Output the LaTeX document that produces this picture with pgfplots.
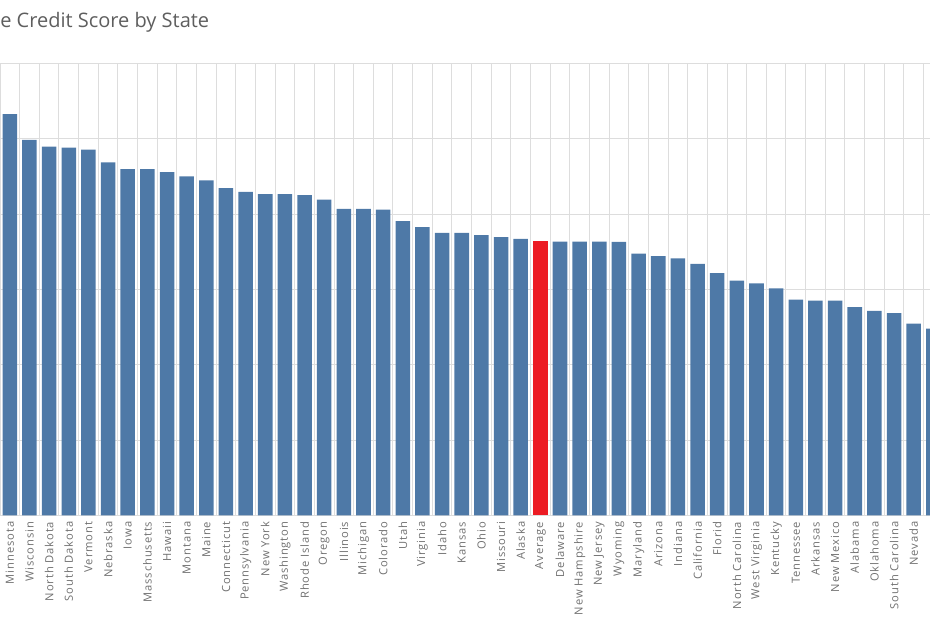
\documentclass[border=0pt]{standalone}
\usepackage{fontspec}
\setmainfont{Open Sans}
\newfontfamily\lblfont[LetterSpace=8]{Open Sans}
\usepackage{pgfplots}
\pgfplotsset{compat=1.18}
\definecolor{barblue}{HTML}{4E79A7}
\definecolor{barred}{HTML}{EC1C24}
\definecolor{gridgray}{HTML}{DDDDDD}
\definecolor{labelgray}{HTML}{707070}
\definecolor{titlegray}{HTML}{5E5E5E}
\begin{document}
\begin{tikzpicture}
\useasboundingbox (0pt,0pt) rectangle (697.5pt,465pt);
\clip (0pt,0pt) rectangle (697.5pt,465pt);
\begin{axis}[
  at={(0pt,78.375pt)}, anchor=south west,
  scale only axis,
  width=697.5pt, height=339.15pt,
  xmin=-0.5, xmax=46.83,
  ymin=600, ymax=720,
  axis line style={draw=none},
  ybar, bar width=0.74, bar shift=0pt,
  ytick={600,620,...,720}, yticklabels={},
  ymajorgrids, grid style={gridgray, line width=0.75pt},
  xtick={0,...,47},
  xticklabels={Minnesota,Wisconsin,North Dakota,South Dakota,Vermont,Nebraska,Iowa,Masschusetts,Hawaii,Montana,Maine,Connecticut,Pennsylvania,New York,Washington,Rhode Island,Oregon,Illinois,Michigan,Colorado,Utah,Virginia,Idaho,Kansas,Ohio,Missouri,Alaska,Average,Delaware,New Hampshire,New Jersey,Wyoming,Maryland,Arizona,Indiana,California,Florid,North Carolina,West Virginia,Kentucky,Tennessee,Arkansas,New Mexico,Alabama,Oklahoma,South Carolina,Nevada,Texas},
  minor xtick={-0.5,0.5,...,47.5},
  xminorgrids, minor grid style={gridgray, line width=0.75pt},
  major tick length=0pt, minor tick length=0pt,
  tick style={draw=none},
  xticklabel style={rotate=90, anchor=east, inner sep=0pt, xshift=-4.5pt, font=\lblfont\fontsize{8.4}{9}\selectfont, text=labelgray},
]
\addplot[fill=barblue, draw=none] coordinates {
(0,706.5) (1,699.7) (2,697.9) (3,697.6) (4,697.1) (5,693.7) (6,691.9) (7,691.9)
(8,691.1) (9,690.0) (10,688.9) (11,686.9) (12,685.9) (13,685.3) (14,685.3) (15,685.0)
(16,683.8) (17,681.4) (18,681.4) (19,681.2) (20,678.1) (21,676.5) (22,675.0) (23,675.0)
(24,674.4) (25,673.9) (26,673.4) (28,672.7) (29,672.7) (30,672.7) (31,672.6)
(32,669.5) (33,668.8) (34,668.2) (35,666.8) (36,664.3) (37,662.3) (38,661.6) (39,660.3)
(40,657.3) (41,657.0) (42,657.0) (43,655.3) (44,654.3) (45,653.7) (46,650.9) (47,649.6)
};
\addplot[fill=barred, draw=none] coordinates {(27,672.8)};
\end{axis}
\node[anchor=base west, inner sep=0pt, text=titlegray, font=\fontsize{15}{18}\selectfont] at (0pt,444pt) {e Credit Score by State};
\end{tikzpicture}
\end{document}
